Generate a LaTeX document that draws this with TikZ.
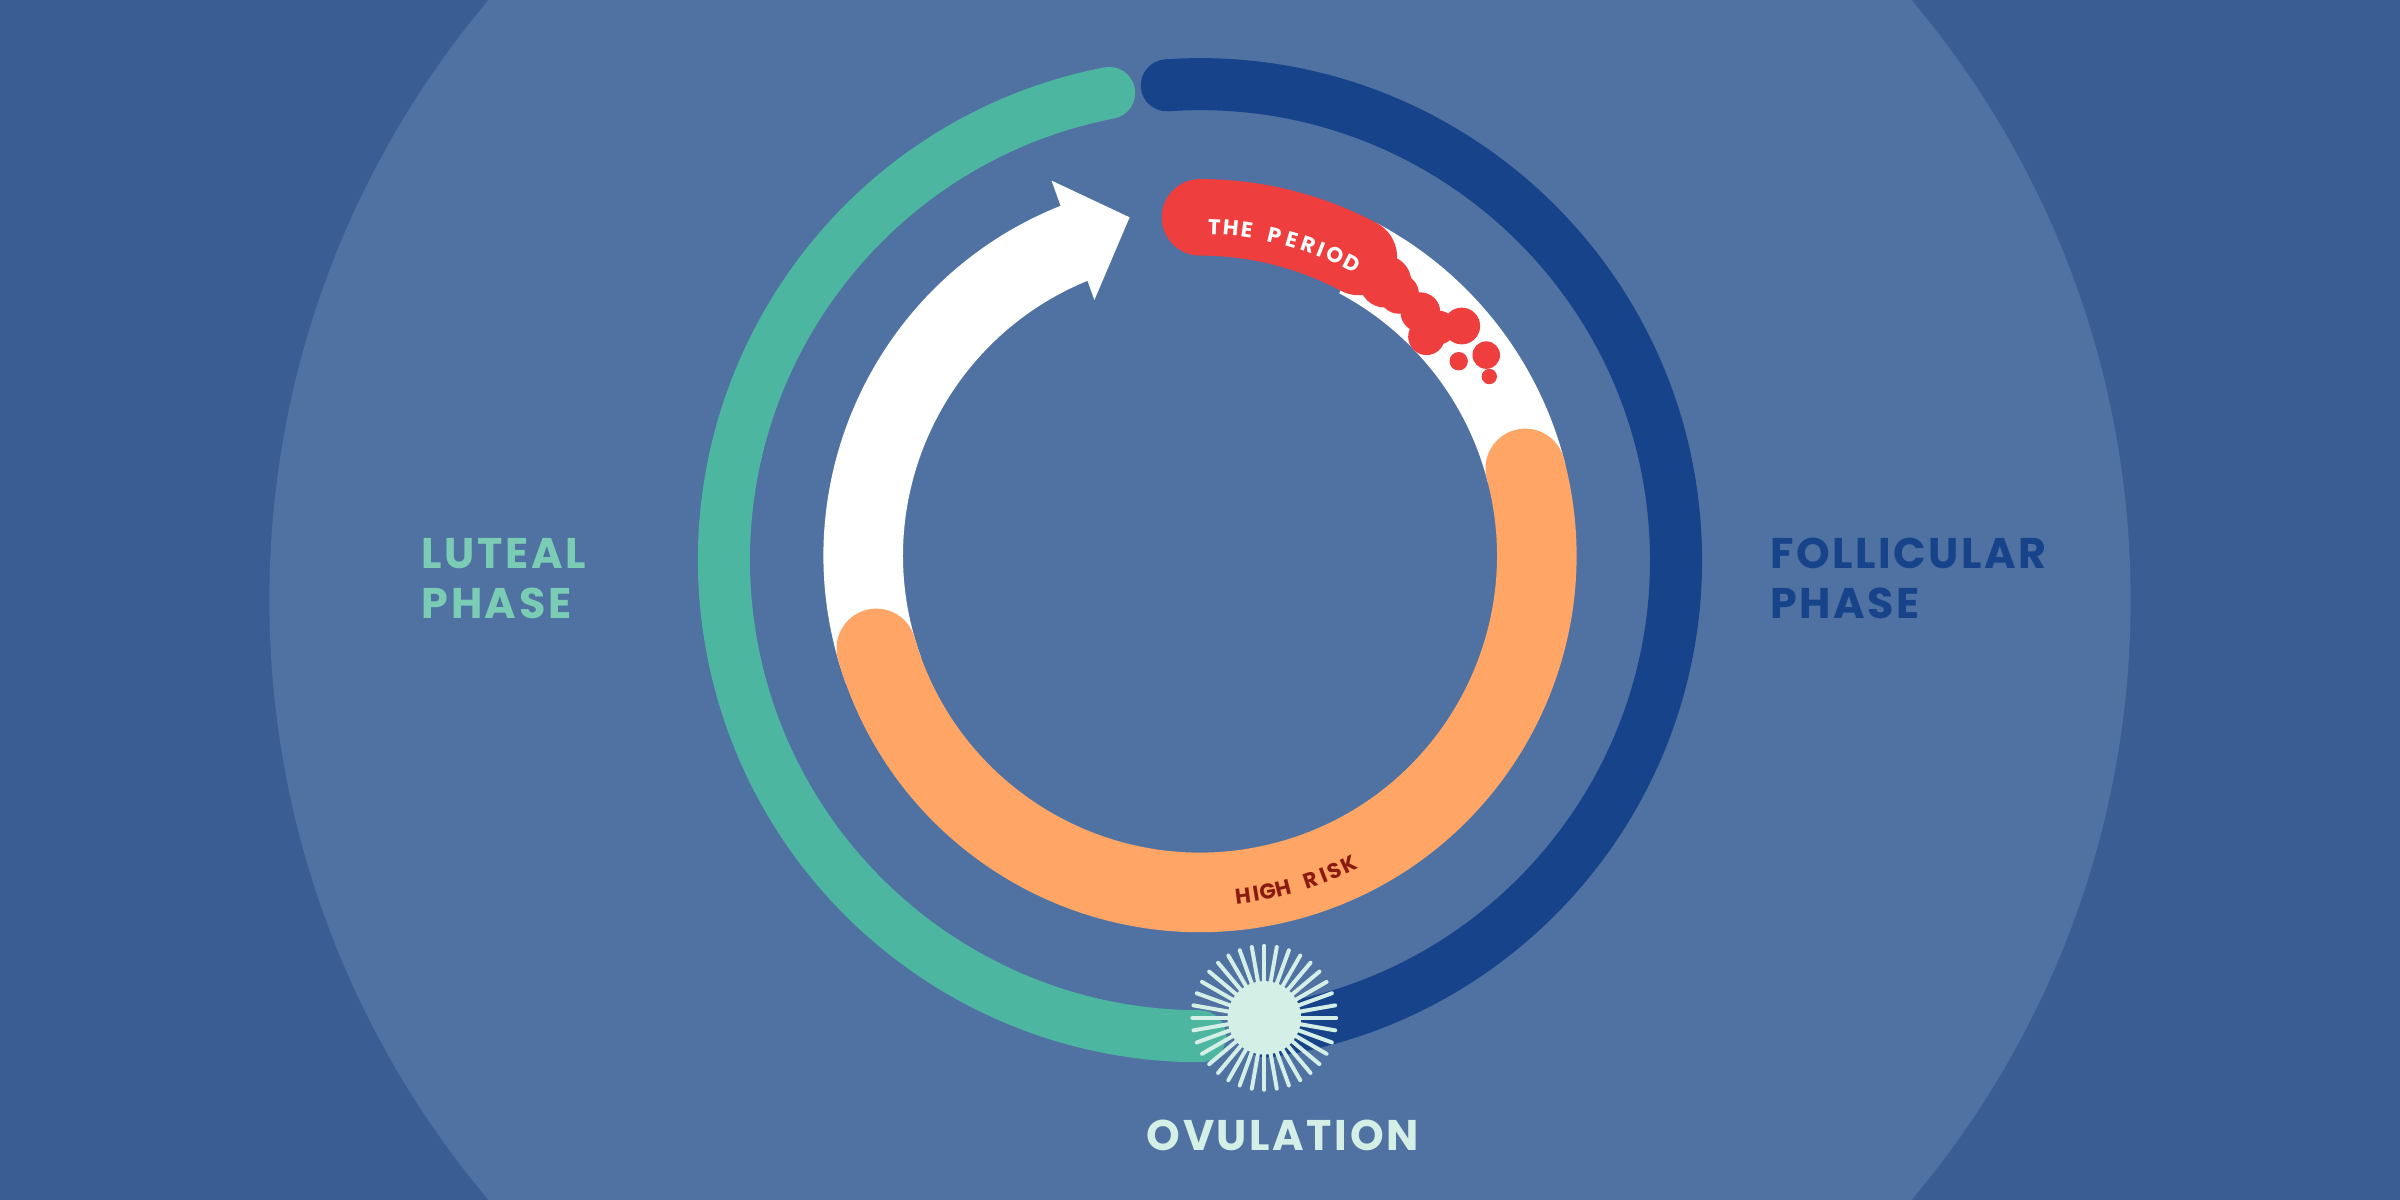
\documentclass[tikz,border=0pt]{standalone}
\usetikzlibrary{calc}
\usepackage{fontspec}
\setmainfont{Poppins}[BoldFont={* Bold}]
\definecolor{bgd}{HTML}{3A5D94}
\definecolor{bgl}{HTML}{5072A2}
\definecolor{navy}{HTML}{16438A}
\definecolor{teal}{HTML}{4DB6A1}
\definecolor{tealtxt}{HTML}{7ACCB5}
\definecolor{orng}{HTML}{FFA666}
\definecolor{redp}{HTML}{EE3E3E}
\definecolor{pale}{HTML}{D3EFE6}
\definecolor{riskc}{HTML}{8B1A10}
\begin{document}
\begin{tikzpicture}[x=1pt,y=1pt,
  lbl/.style={font=\fontsize{28}{33}\selectfont\bfseries\addfontfeatures{LetterSpace=6}, align=left, anchor=west},
  ptxt/.style={font=\fontsize{14}{14}\selectfont\bfseries, text=white, inner sep=0},
  rtxt/.style={font=\fontsize{14}{14}\selectfont\bfseries, text=riskc, inner sep=0}]
\useasboundingbox (0,0) rectangle (1568,784);
\fill[bgd] (0,0) rectangle (1568,784);
\begin{scope}
\clip (0,0) rectangle (1568,784);
\fill[bgl] (784,392) circle (608);
\end{scope}
\coordinate (oc) at (784,418);
\coordinate (ic) at (784,421);
% outer ring
\draw[navy, line width=34, line cap=round] ($(oc)+(94:311)$) arc[start angle=94, end angle=-82, radius=311];
\draw[teal, line width=34, line cap=round] ($(oc)+(101:311)$) arc[start angle=101, end angle=270, radius=311];
% white arrow arc
\draw[white, line width=52] ($(ic)+(200:220)$) arc[start angle=200, end angle=111, radius=220];
\fill[white] (687,666) -- (738,642) -- (715,588) -- cycle;
% white right band
\draw[white, line width=52] ($(ic)+(62:220)$) arc[start angle=62, end angle=14, radius=220];
% orange
\draw[orng, line width=52, line cap=round] ($(ic)+(15:220)$) arc[start angle=15, end angle=-164, radius=220];
% red period
\draw[redp, line width=50, line cap=round] ($(ic)+(90:221)$) arc[start angle=90, end angle=62, radius=221];
\foreach \px/\py/\pr in {905/600/17, 914/592/13, 928/580/13, 940/570/11, 932/564/12, 955/571/12, 971/552/9, 953/548/6, 973/538/5}
  \fill[redp] (\px,\py) circle (\pr);
% period text
\foreach \ch/\a in {T/87.5, H/84.6, E/81.8, P/76.8, E/73.8, R/70.8, I/68.4, O/65.8, D/62.6}
  \node[ptxt, rotate=\a-90] (pt\a) at ($(ic)+(\a:215)$) {\ch};
% high risk text
\foreach \ch/\a in {H/-82.8, I/-80.6, G/-78.6, H/-75.9, R/-71.1, I/-68.9, S/-66.9, K/-64.3}
  \node[rtxt, rotate=\a+90] (hr\a) at ($(ic)+(\a:224)$) {\ch};
% ovulation star
\coordinate (st) at (826,119);
\foreach \k in {0,10,...,350}
  \draw[pale, line width=2.6, line cap=round] ($(st)+(\k:22)$) -- ($(st)+(\k:47)$);
\fill[pale] (st) circle (24);
% labels
\node[lbl, text=tealtxt] (lut) at (272,406) {LUTEAL\\PHASE};
\node[lbl, text=navy] (fol) at (1153,406) {FOLLICULAR\\PHASE};
\node[lbl, text=pale, anchor=center] (ovu) at (838,42) {OVULATION};
\end{tikzpicture}
\end{document}
